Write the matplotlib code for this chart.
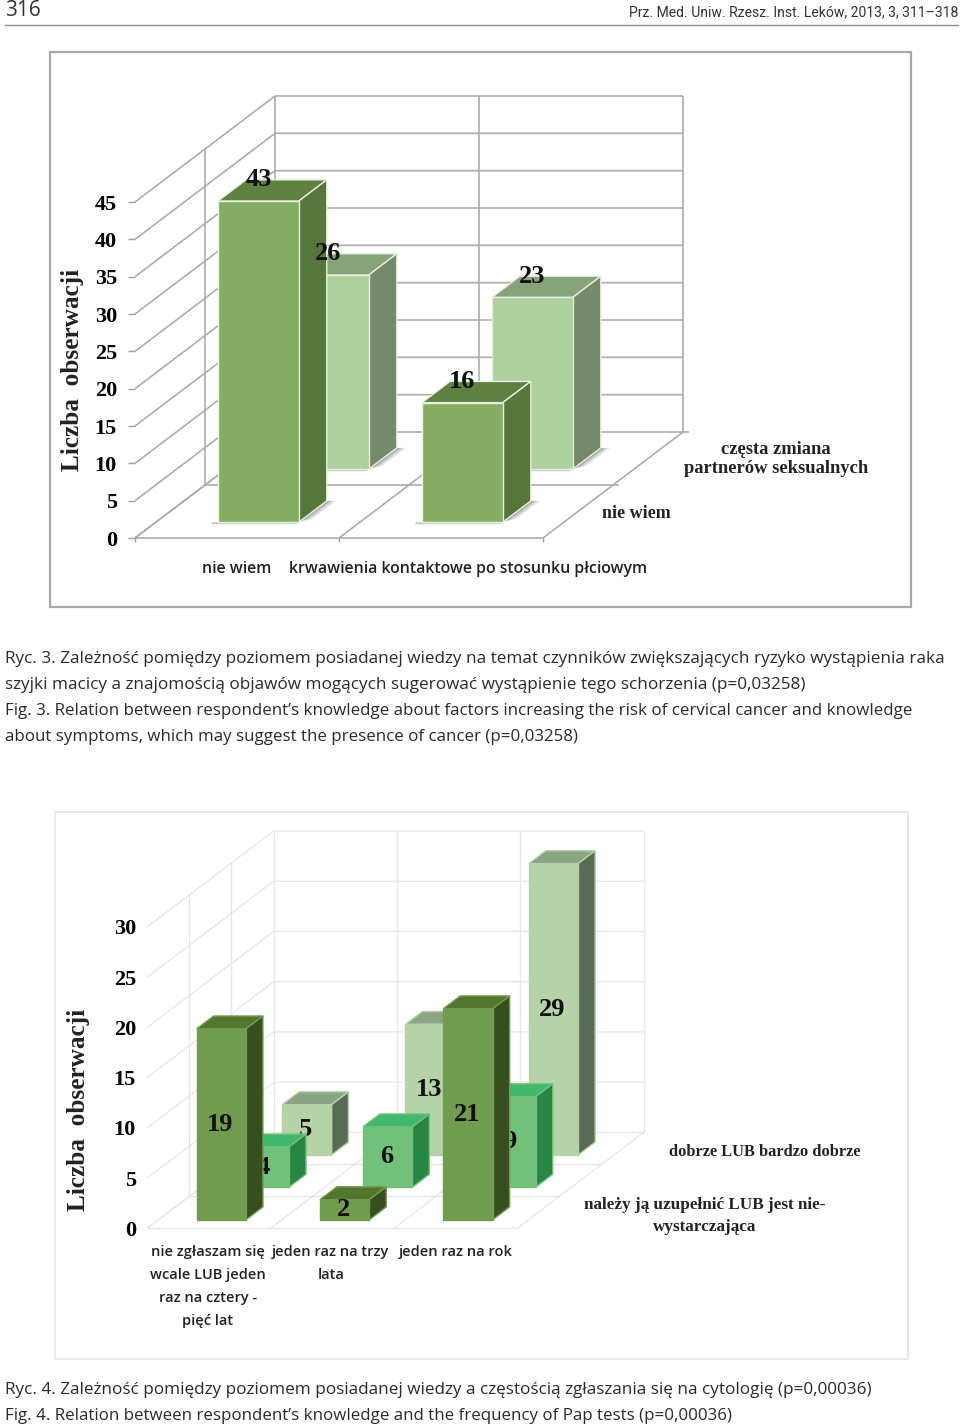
import matplotlib
matplotlib.use("Agg")
import matplotlib.pyplot as plt
from matplotlib.patches import Polygon, Rectangle

W, H = 960, 1426

# Ryc. 3 data
cats3 = ["nie wiem", "krwawienia kontaktowe po stosunku płciowym"]
series3_front = [43, 16]   # nie wiem
series3_back = [26, 23]    # częsta zmiana partnerów seksualnych
yticks3 = [0, 5, 10, 15, 20, 25, 30, 35, 40, 45]

# Ryc. 4 data
cats4 = ["nie zgłaszam się\nwcale LUB jeden\nraz na cztery -\npięć lat", "jeden raz na trzy\nlata", "jeden raz na rok"]
series4_front = [19, 2, 21]
series4_mid = [4, 6, 9]
series4_back = [5, 13, 29]
yticks4 = [0, 5, 10, 15, 20, 25, 30]

SERIF = "Liberation Serif"
SANS = "Open Sans"

fig = plt.figure(figsize=(W / 100, H / 100), dpi=100, facecolor="white")

# page layer in pixels, only for frames and page text
page = fig.add_axes([0, 0, 1, 1])
page.set_xlim(0, W)
page.set_ylim(H, 0)
page.axis("off")


def chart_axes(x0, x1, y_bottom, y_top):
    ax = fig.add_axes([x0 / W, 1 - y_bottom / H, (x1 - x0) / W, (y_bottom - y_top) / H])
    ax.patch.set_visible(False)
    ax.set_frame_on(False)
    return ax


def box(ax, u0, u1, d0, d1, v, dx, dy, colors, edge, zorder, shadow=False):
    # one bar: u along categories, d into the depth, v is the value
    def pt(u, d, val):
        return (u + d * dx, val + d * dy)

    face, side, top = colors
    if shadow:
        # soft shadow on the floor, right of the side wall and under the front edge
        for grow, alpha in [(0.045, 0.14), (0.03, 0.18), (0.015, 0.25)]:
            ax.add_patch(Polygon([pt(u1, d0, 0), pt(u1, d1, 0), pt(u1 + grow, d1, 0), pt(u1 + grow, d0 + 0.03, 0)],
                                 fc="#444444", ec="none", alpha=alpha, zorder=zorder, clip_on=False))
        ax.add_patch(Polygon([pt(u0 - 0.03, d0, 0), pt(u1, d0, 0), pt(u1, d0 - 0.02, 0), pt(u0 - 0.02, d0 - 0.02, 0)],
                             fc="#666666", ec="none", alpha=0.35, zorder=zorder, clip_on=False))
    ax.add_patch(Polygon([pt(u0, d0, v), pt(u1, d0, v), pt(u1, d1, v), pt(u0, d1, v)],
                         fc=top, ec=edge, lw=1, zorder=zorder, clip_on=False))
    ax.add_patch(Polygon([pt(u1, d0, 0), pt(u1, d1, 0), pt(u1, d1, v), pt(u1, d0, v)],
                         fc=side, ec=edge, lw=1, zorder=zorder, clip_on=False))
    ax.add_patch(Polygon([pt(u0, d0, 0), pt(u1, d0, 0), pt(u1, d0, v), pt(u0, d0, v)],
                         fc=face, ec=edge, lw=1, zorder=zorder, clip_on=False))
    return pt((u0 + u1) / 2, d0, v)


def walls(ax, n_cats, ymax, ticks, dx, dy, d_steps, color, lw):
    kw = dict(color=color, lw=lw, clip_on=False, zorder=1, solid_capstyle="butt")
    for t in ticks:
        ax.plot([0, dx, n_cats + dx], [t, t + dy, t + dy], **kw)
    for i in range(n_cats + 1):
        ax.plot([i + dx, i + dx], [dy, ymax + dy], **kw)
        ax.plot([i, i + dx], [0, dy], **kw)
    for d in d_steps:
        ax.plot([d * dx, d * dx], [d * dy, ymax + d * dy], **kw)
        ax.plot([d * dx, n_cats + d * dx], [d * dy, d * dy], **kw)
    ax.plot([0, n_cats], [0, 0], **kw)
    ax.set_xlim(0, n_cats)
    ax.set_ylim(0, ymax)
    ax.set_yticks(ticks)
    ax.set_xticks(range(n_cats + 1))
    ax.set_xticklabels([])


# ---- Ryc. 3 ----
page.add_patch(Rectangle((50, 52), 861, 555, fc="white", ec="#a8a8a8", lw=1.6))
ax3 = chart_axes(135, 543, 538, 202)
dx3, dy3 = 140 / 204, 106 / (336 / 45)
walls(ax3, 2, 45, yticks3, dx3, dy3, [0.5], "#adadad", 1.2)
ax3.plot([2 + dx3, 2 + dx3 + 0.025], [dy3, dy3], color="#adadad", lw=1.2, clip_on=False)
ax3.plot([0.5 * dx3 + 2, 0.5 * dx3 + 2.025], [0.5 * dy3, 0.5 * dy3], color="#adadad", lw=1.2, clip_on=False)
ax3.spines["left"].set_visible(True)
ax3.spines["left"].set_color("#a0a0a0")
ax3.spines["left"].set_linewidth(1.2)
ax3.tick_params(axis="y", length=5, width=1, color="#a0a0a0", pad=8)
ax3.tick_params(axis="x", length=3, width=1, color="#a0a0a0")
for lab in ax3.get_yticklabels():
    lab.set_fontfamily(SERIF)
    lab.set_fontweight("bold")
    lab.set_fontsize(16)

back3 = ("#aecf9e", "#76896a", "#86a37a")
front3 = ("#85ad64", "#57763b", "#5f8040")
labels3 = []
for i in range(2):
    tip = box(ax3, i + 0.304, i + 0.70, 0.65, 0.85, series3_back[i], dx3, dy3, back3, "#e4eedd", 3, shadow=True)
    labels3.append((tip, series3_back[i]))
for i in range(2):
    tip = box(ax3, i + 0.304, i + 0.70, 0.15, 0.35, series3_front[i], dx3, dy3, front3, "#e8f0e0", 4, shadow=True)
    labels3.append((tip, series3_front[i]))
for tip, val in labels3:
    ax3.annotate(str(val), tip, xytext=(0, 15.2), textcoords="offset points", ha="center", va="center",
                 fontfamily=SERIF, fontweight="bold", fontsize=19, color="#111111", zorder=10, annotation_clip=False)

page.text(73, 370, "Liczba  obserwacji", rotation=90, ha="center", va="center",
          family=SERIF, weight="bold", fontsize=18.2, color="#222222")
page.text(237, 569, cats3[0], ha="center", va="center", family=SANS, weight=600, fontsize=11.4, color="#222222")
page.text(468, 569, cats3[1], ha="center", va="center", family=SANS, weight=600, fontsize=11.4, color="#222222")
page.text(776, 459, "częsta zmiana\npartnerów seksualnych", ha="center", va="center", family=SERIF, weight="bold",
          fontsize=13.3, linespacing=1.17, color="#222222")
page.text(636, 514, "nie wiem", ha="center", va="center", family=SERIF, weight="bold", fontsize=13, color="#222222")

# ---- Ryc. 4 ----
page.add_patch(Rectangle((55, 812), 853, 547, fc="white", ec="#e2e2e2", lw=1.1))
ax4 = chart_axes(147, 517, 1228.4, 927)
dx4, dy4 = 126.7 / (370 / 3), 96 / (301.4 / 30)
walls(ax4, 3, 30, yticks4, dx4, dy4, [1 / 3, 2 / 3], "#e6e6e6", 0.9)
ax4.tick_params(axis="y", length=0, pad=8)
ax4.tick_params(axis="x", length=0)
for lab in ax4.get_yticklabels():
    lab.set_fontfamily(SERIF)
    lab.set_fontweight("bold")
    lab.set_fontsize(16)

back4 = ("#b5d2a8", "#5a6b55", "#8ba484")
mid4 = ("#72c17a", "#298545", "#41b86b")
front4 = ("#719c4f", "#374f1e", "#527530")
z = 3
for vals, d0, cols in [(series4_back, 0.765, back4), (series4_mid, 0.43, mid4), (series4_front, 0.09, front4)]:
    for i, val in enumerate(vals):
        tip = box(ax4, i + 0.31, i + 0.71, d0, d0 + 0.134, val, dx4, dy4, cols, cols[0], z)
        ax4.text(tip[0] - 0.01, tip[1] - val / 2, str(val), ha="center", va="center", family=SERIF, weight="bold",
                 fontsize=19, color="#111111", zorder=z + 0.5, clip_on=False)
        z += 1

page.text(79, 1110, "Liczba  obserwacji", rotation=90, ha="center", va="center",
          family=SERIF, weight="bold", fontsize=18.2, color="#222222")
for xc, lab in zip([208, 331, 456], cats4):
    page.text(xc, 1245, lab, ha="center", va="top", family=SANS, weight=600, fontsize=10.5, linespacing=1.81,
              color="#222222")
page.text(765, 1152, "dobrze LUB bardzo dobrze", ha="center", va="center", family=SERIF, weight="bold",
          fontsize=11.8, color="#222222")
page.text(705, 1216, "należy ją uzupełnić LUB jest nie-\nwystarczająca", ha="center", va="center", family=SERIF,
          weight="bold", fontsize=12.3, linespacing=1.5, color="#222222")

# ---- page text ----
page.plot([5, 958], [25, 25], color="#8a8a8a", lw=1)
page.text(5, 16, "316", ha="left", va="baseline", family=SANS, fontsize=15, color="#333333")
page.text(958, 16, "Prz. Med. Uniw. Rzesz. Inst. Leków, 2013, 3, 311–318", ha="right", va="baseline",
          family="Roboto", fontsize=10.1, color="#333333")

captions = [
    (659, 12.3, "Ryc. 3. Zależność pomiędzy poziomem posiadanej wiedzy na temat czynników zwiększających ryzyko wystąpienia raka"),
    (685, 12.3, "szyjki macicy a znajomością objawów mogących sugerować wystąpienie tego schorzenia (p=0,03258)"),
    (711, 12.2, "Fig. 3. Relation between respondent’s knowledge about factors increasing the risk of cervical cancer and knowledge"),
    (737, 12.2, "about symptoms, which may suggest the presence of cancer (p=0,03258)"),
    (1390, 12.3, "Ryc. 4. Zależność pomiędzy poziomem posiadanej wiedzy a częstością zgłaszania się na cytologię (p=0,00036)"),
    (1416, 12.2, "Fig. 4. Relation between respondent’s knowledge and the frequency of Pap tests (p=0,00036)"),
]
for y, size, line in captions:
    page.text(5, y, line, ha="left", va="center", family=SANS, weight=500, fontsize=size, color="#2a2a2a")

fig.savefig("out.png", dpi=100, facecolor="white")
